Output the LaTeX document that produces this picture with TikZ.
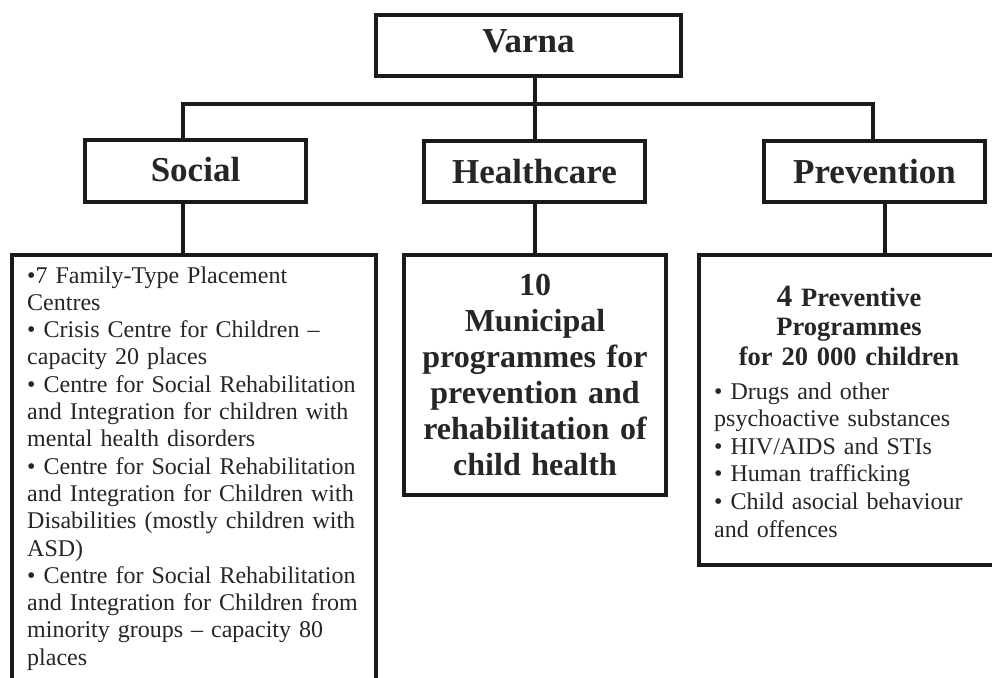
\documentclass[tikz,border=0pt]{standalone}
\usepackage{fontspec}
\setmainfont{Liberation Serif}
\definecolor{linec}{HTML}{1A1A1A}
\definecolor{textc}{HTML}{262626}
\begin{document}
\begin{tikzpicture}[x=1pt,y=-1pt,
  box/.style={draw=linec, line width=4pt, inner sep=0pt, rectangle},
  head/.style={box, text=textc, font=\fontsize{35}{40}\selectfont\bfseries},
  conn/.style={draw=linec, line width=3.5pt, line join=miter},
  txt/.style={text=textc, inner sep=0pt},
  listtext/.style={txt, font=\fontsize{24}{27.3}\selectfont, text width=400pt, align=left, anchor=base west},
]
\useasboundingbox (0,0) rectangle (992,677);
\clip (0,0) rectangle (992,677);
\fill[white] (0,0) rectangle (992,677);

% header boxes
\node[head, font=\fontsize{35}{40}\selectfont\bfseries, minimum width=305pt, minimum height=61pt, text depth=9pt] (varna) at (528.5,45.5) {Varna};
\node[head, minimum width=221pt, minimum height=62pt, text depth=3pt] (social) at (195.5,171) {Social};
\node[head, minimum width=221pt, minimum height=61pt] (healthcare) at (534.5,171.5) {Healthcare};
\node[head, minimum width=221pt, minimum height=61pt] (prevention) at (874.5,171.5) {Prevention};

% content boxes
\node[box, minimum width=364pt, minimum height=447pt] (socbox) at (194,478.5) {};
\node[box, minimum width=262pt, minimum height=240pt] (hcbox) at (535,375) {};
\node[box, minimum width=310pt, minimum height=310pt] (prbox) at (854,410) {};

% texts
\node[listtext] (soctext) at (27,283) {•7 Family-Type Placement\\
Centres\\
• Crisis Centre for Children –\\
capacity 20 places\\
• Centre for Social Rehabilitation\\
and Integration for children with\\
mental health disorders\\
• Centre for Social Rehabilitation\\
and Integration for Children with\\
Disabilities (mostly children with\\
ASD)\\
• Centre for Social Rehabilitation\\
and Integration for Children from\\
minority groups – capacity 80\\
places};

\node[txt, font=\fontsize{32}{36}\selectfont\bfseries, text width=262pt, align=center, anchor=base] (hctext) at (535,295) {10\\
Municipal\\
programmes for\\
prevention and\\
rehabilitation of\\
child health};

\node[txt, font=\fontsize{26.5}{29.5}\selectfont\bfseries, text width=300pt, align=center, anchor=base] (prhead) at (849,306) {{\fontsize{31}{29.5}\selectfont 4} Preventive\\
Programmes\\
for 20 000 children};

\node[listtext, font=\fontsize{24}{27.6}\selectfont] (prlist) at (714,399) {• Drugs and other\\
psychoactive substances\\
• HIV/AIDS and STIs\\
• Human trafficking\\
• Child asocial behaviour\\
and offences};

% connectors
\coordinate (jn) at (535,104);
\coordinate (sx) at (183,104);
\coordinate (px) at (873,104);
\coordinate (px2) at (885,230);
\draw[conn] (social.north -| sx) -- (sx) -- (px) -- (prevention.north -| px);
\draw[conn] (varna.south -| jn) -- (jn) -- (healthcare.north -| jn);
\draw[conn] (social.south -| sx) -- (socbox.north -| sx);
\draw[conn] (healthcare.south -| jn) -- (hcbox.north -| jn);
\draw[conn] (prevention.south -| px2) -- (prbox.north -| px2);
\end{tikzpicture}
\end{document}
